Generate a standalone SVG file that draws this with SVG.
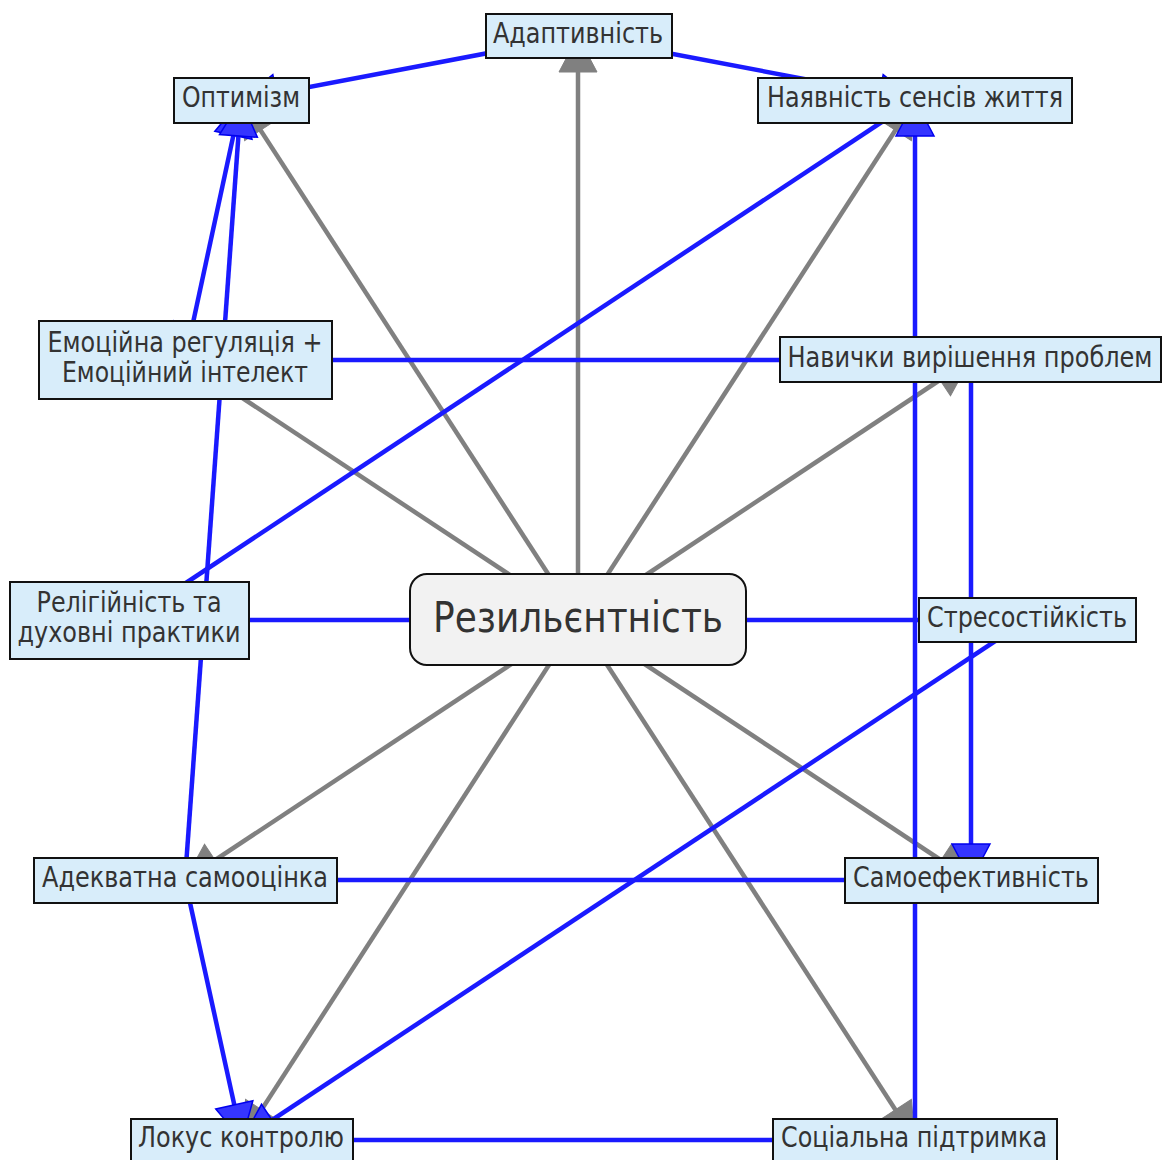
<svg xmlns="http://www.w3.org/2000/svg" width="1162" height="1160" viewBox="0 0 1162 1160">
<style>
.g{stroke:#808080;stroke-width:4.5;fill:none}
.b{stroke:#1a1aff;stroke-width:4.5;fill:none}
.box{fill:#d8edfa;stroke:#111;stroke-width:2}
.hub{fill:#f2f2f2;stroke:#111;stroke-width:2}
text{font-family:"DejaVu Sans Condensed","DejaVu Sans",sans-serif;font-size:27.5px;fill:#333;text-anchor:middle}
.big{font-size:42px}
</style>
<defs>
<marker id="ag" viewBox="-2 -21 42 42" refX="38" refY="0" markerWidth="42" markerHeight="42" markerUnits="userSpaceOnUse" orient="auto" overflow="visible">
<path d="M2,-19 L38,0 L2,19 Z" fill="#808080" stroke="#808080" stroke-width="1"/>
</marker>
<marker id="ab" viewBox="-2 -21 42 42" refX="38" refY="0" markerWidth="42" markerHeight="42" markerUnits="userSpaceOnUse" orient="auto-start-reverse" overflow="visible">
<path d="M2,-19 L38,0 L2,19 Z" fill="#3535ff" stroke="#0000ee" stroke-width="1.5"/>
</marker>
</defs>
<g id="connectors">
<line class="g" x1="578" y1="620" x2="578" y2="36" marker-end="url(#ag)"/>
<line class="g" x1="578" y1="620" x2="241" y2="100" marker-end="url(#ag)"/>
<line class="g" x1="578" y1="620" x2="915" y2="100" marker-end="url(#ag)"/>
<line class="g" x1="578" y1="620" x2="185" y2="360" marker-end="url(#ag)"/>
<line class="g" x1="578" y1="620" x2="970" y2="360" marker-end="url(#ag)"/>
<line class="g" x1="578" y1="620" x2="185" y2="880" marker-end="url(#ag)"/>
<line class="g" x1="578" y1="620" x2="971" y2="880" marker-end="url(#ag)"/>
<line class="g" x1="578" y1="620" x2="242" y2="1140" marker-end="url(#ag)"/>
<line class="g" x1="578" y1="620" x2="915" y2="1140" marker-end="url(#ag)"/>
<line class="b" x1="578" y1="36" x2="241" y2="100" marker-end="url(#ab)"/>
<line class="b" x1="578" y1="36" x2="915" y2="100" marker-end="url(#ab)"/>
<line class="b" x1="241" y1="100" x2="185" y2="360" marker-start="url(#ab)" marker-end="url(#ab)"/>
<line class="b" x1="185" y1="880" x2="241" y2="100" marker-end="url(#ab)"/>
<line class="b" x1="185" y1="880" x2="242" y2="1140" marker-end="url(#ab)"/>
<line class="b" x1="1027" y1="620" x2="242" y2="1140" marker-end="url(#ab)"/>
<line class="b" x1="915" y1="100" x2="130" y2="620"/>
<line class="b" x1="185" y1="360" x2="970" y2="360"/>
<line class="b" x1="130" y1="620" x2="578" y2="620"/>
<line class="b" x1="578" y1="620" x2="1027" y2="620"/>
<line class="b" x1="185" y1="880" x2="971" y2="880"/>
<line class="b" x1="242" y1="1140" x2="915" y2="1140"/>
<line class="b" x1="971" y1="360" x2="971" y2="880" marker-end="url(#ab)"/>
<line class="b" x1="915" y1="1140" x2="915" y2="100" marker-end="url(#ab)"/>
</g>
<g id="n-adapt"><rect class="box" x="486" y="14" width="186" height="44"/><text x="578" y="43" textLength="170" lengthAdjust="spacingAndGlyphs">Адаптивність</text></g>
<g id="n-optim"><rect class="box" x="174" y="78" width="135" height="45"/><text x="241" y="107" textLength="118" lengthAdjust="spacingAndGlyphs">Оптимізм</text></g>
<g id="n-sens"><rect class="box" x="758" y="78" width="314" height="45"/><text x="915" y="107" textLength="296" lengthAdjust="spacingAndGlyphs">Наявність сенсів життя</text></g>
<g id="n-emo"><rect class="box" x="39" y="321" width="293" height="78"/><text x="185" y="352" textLength="275" lengthAdjust="spacingAndGlyphs">Емоційна регуляція +</text><text x="185" y="382" textLength="246" lengthAdjust="spacingAndGlyphs">Емоційний інтелект</text></g>
<g id="n-navy"><rect class="box" x="780" y="337" width="381" height="45"/><text x="970" y="367" textLength="365" lengthAdjust="spacingAndGlyphs">Навички вирішення проблем</text></g>
<g id="n-relig"><rect class="box" x="10" y="582" width="239" height="77"/><text x="129" y="612" textLength="185" lengthAdjust="spacingAndGlyphs">Релігійність та</text><text x="129" y="642" textLength="223" lengthAdjust="spacingAndGlyphs">духовні практики</text></g>
<g id="n-rez"><rect class="hub" x="410" y="574" width="336" height="91" rx="17"/><text class="big" x="578" y="632" textLength="290" lengthAdjust="spacingAndGlyphs">Резильєнтність</text></g>
<g id="n-stres"><rect class="box" x="919" y="598" width="217" height="44"/><text x="1027" y="627" textLength="200" lengthAdjust="spacingAndGlyphs">Стресостійкість</text></g>
<g id="n-adek"><rect class="box" x="34" y="858" width="303" height="45"/><text x="185" y="887" textLength="286" lengthAdjust="spacingAndGlyphs">Адекватна самооцінка</text></g>
<g id="n-samo"><rect class="box" x="845" y="858" width="253" height="45"/><text x="971" y="887" textLength="236" lengthAdjust="spacingAndGlyphs">Самоефективність</text></g>
<g id="n-lokus"><rect class="box" x="131" y="1119" width="222" height="46"/><text x="241" y="1147" textLength="206" lengthAdjust="spacingAndGlyphs">Локус контролю</text></g>
<g id="n-soc"><rect class="box" x="773" y="1119" width="284" height="46"/><text x="914" y="1147" textLength="266" lengthAdjust="spacingAndGlyphs">Соціальна підтримка</text></g>
</svg>
